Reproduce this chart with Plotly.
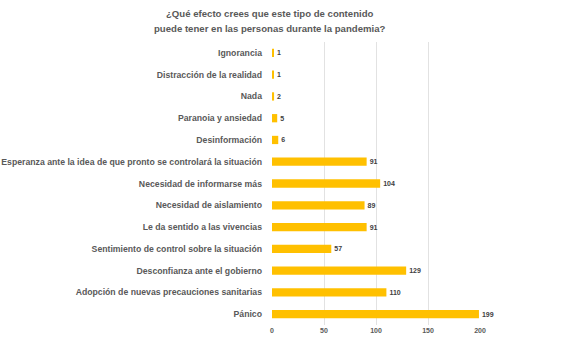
import plotly.graph_objects as go

categories = [
    "Ignorancia",
    "Distracción de la realidad",
    "Nada",
    "Paranoia y ansiedad",
    "Desinformación",
    "Esperanza ante la idea de que pronto se controlará la situación",
    "Necesidad de informarse más",
    "Necesidad de aislamiento",
    "Le da sentido a las vivencias",
    "Sentimiento de control sobre la situación",
    "Desconfianza ante el gobierno",
    "Adopción de nuevas precauciones sanitarias",
    "Pánico",
]
values = [1, 1, 2, 5, 6, 91, 104, 89, 91, 57, 129, 110, 199]
x_ticks = [0, 50, 100, 150, 200]
title_lines = [
    "¿Qué efecto crees que este tipo de contenido",
    "puede tener en las personas durante la pandemia?",
]

fig = go.Figure(
    go.Bar(
        x=values,
        y=categories,
        orientation="h",
        marker=dict(color="#FFC000", line=dict(width=0)),
        width=0.38,
        text=[str(v) for v in values],
        textposition="outside",
        cliponaxis=False,
        textfont=dict(family="Liberation Sans, Arial", size=8.5, color="#404040", weight="bold"),
    )
)

title_font = dict(family="Liberation Sans, Arial", size=9.6, color="#595959", weight="bold")
for line, ypos in zip(title_lines, [1.102, 1.046]):
    fig.add_annotation(
        text=line, xref="paper", yref="paper", x=-0.01, y=ypos,
        xanchor="center", yanchor="middle", showarrow=False, font=title_font,
    )

fig.update_layout(
    width=571,
    height=343,
    margin=dict(l=272, r=91, t=42, b=18, autoexpand=False),
    paper_bgcolor="white",
    plot_bgcolor="white",
    showlegend=False,
    xaxis=dict(
        range=[0, 200],
        tickvals=x_ticks,
        showgrid=True,
        gridcolor="#E2E2E2",
        gridwidth=1,
        zeroline=False,
        showline=False,
        ticks="",
        automargin=False,
        tickfont=dict(family="Liberation Sans, Arial", size=7, color="#595959", weight="bold"),
    ),
    yaxis=dict(
        autorange="reversed",
        showgrid=False,
        showline=False,
        ticks="",
        automargin=False,
        ticklabelstandoff=9,
        tickfont=dict(family="Liberation Sans, Arial", size=8.7, color="#595959", weight="bold"),
    ),
)

fig.write_html(
    "out.html",
    config={"displayModeBar": False},
    post_script="document.body.style.margin='0';",
)
